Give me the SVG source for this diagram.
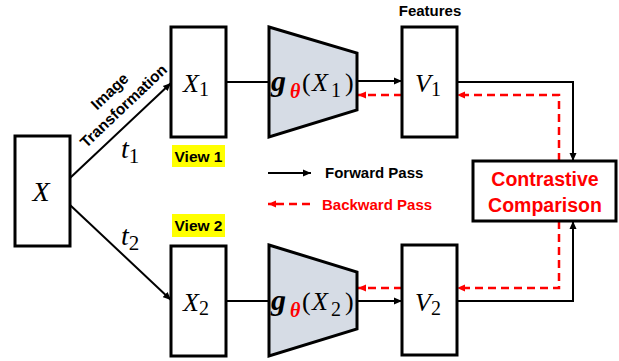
<svg xmlns="http://www.w3.org/2000/svg" width="619" height="361" viewBox="0 0 619 361">
<defs>
<marker id="ah" markerUnits="userSpaceOnUse" markerWidth="9" markerHeight="8" refX="8" refY="4" orient="auto"><path d="M0,0.5 L8,4 L0,7.5 z" fill="#000"/></marker>
<marker id="ahr" markerUnits="userSpaceOnUse" markerWidth="9" markerHeight="8" refX="8" refY="4" orient="auto"><path d="M0,0.5 L8,4 L0,7.5 z" fill="#f00"/></marker>
</defs>
<style>
.box{fill:#fff;stroke:#000;stroke-width:3}
.trap{fill:#d6dce5;stroke:#000;stroke-width:3}
.fw{fill:none;stroke:#000;stroke-width:2}
.bw{fill:none;stroke:#f00;stroke-width:2.5;stroke-dasharray:8 5}
.math{font-family:"Liberation Serif",serif;font-style:italic;fill:#000}
.lbl{font-family:"Liberation Sans",Arial,sans-serif;font-weight:bold;fill:#000}
.red{fill:#f00}
.hl{fill:#ff0}
</style>
<rect width="619" height="361" fill="#fff"/>
<g id="connectors">
<line class="fw" x1="70" y1="178" x2="171" y2="83" marker-end="url(#ah)"/>
<line class="fw" x1="70" y1="205" x2="171" y2="300" marker-end="url(#ah)"/>
<line class="fw" x1="226" y1="82" x2="269" y2="82"/>
<line class="fw" x1="357" y1="81" x2="402" y2="81" marker-end="url(#ah)"/>
<line class="bw" x1="402" y1="95" x2="358" y2="95" marker-end="url(#ahr)"/>
<polyline class="fw" points="457,82 573,82 573,161" marker-end="url(#ah)"/>
<polyline class="bw" points="559,161 559,95 457,95" marker-end="url(#ahr)"/>
<line class="fw" x1="226" y1="301" x2="269" y2="301"/>
<line class="fw" x1="357" y1="301" x2="402" y2="301" marker-end="url(#ah)"/>
<line class="bw" x1="402" y1="288" x2="358" y2="288" marker-end="url(#ahr)"/>
<polyline class="fw" points="457,301 573,301 573,221" marker-end="url(#ah)"/>
<polyline class="bw" points="559,221 559,288 457,288" marker-end="url(#ahr)"/>
</g>
<g id="transform-label">
<g transform="translate(134,117) rotate(-43.5)">
<text class="lbl" x="0" y="-30" font-size="15.5" text-anchor="middle">Image</text>
<text class="lbl" x="0" y="-10" font-size="15.5" text-anchor="middle">Transformation</text>
</g>
<text class="math" x="121" y="158" font-size="28">t<tspan font-size="21" font-style="normal" dy="5">1</tspan></text>
<text class="math" x="121" y="245" font-size="28">t<tspan font-size="21" font-style="normal" dy="5">2</tspan></text>
</g>
<g id="node-X">
<rect class="box" x="15" y="136" width="55" height="110"/>
<text class="math" x="41" y="201" font-size="28" text-anchor="middle">X</text>
</g>
<g id="node-X1">
<rect class="box" x="171" y="27" width="55" height="110"/>
<text class="math" x="183" y="92" font-size="26">X<tspan font-size="20" font-style="normal" dy="4">1</tspan></text>
<rect class="hl" x="172" y="145" width="53" height="22"/>
<text class="lbl" x="198.5" y="162" font-size="15.5" text-anchor="middle">View 1</text>
</g>
<g id="node-X2">
<rect class="box" x="171" y="246" width="55" height="110"/>
<text class="math" x="183" y="311" font-size="26">X<tspan font-size="20" font-style="normal" dy="4">2</tspan></text>
<rect class="hl" x="172" y="214" width="53" height="23"/>
<text class="lbl" x="198.5" y="231" font-size="15.5" text-anchor="middle">View 2</text>
</g>
<g id="node-g1">
<polygon class="trap" points="269,27 357,53 357,110 269,137"/>
<text class="math" font-size="26"><tspan x="271" y="91" font-weight="bold" font-size="30">g</tspan><tspan class="red" x="290" y="98" font-weight="bold" font-size="20">θ</tspan><tspan x="302" y="91" font-style="normal">(</tspan><tspan x="312" y="91">X</tspan><tspan x="331" y="97" font-size="20" font-style="normal">1</tspan><tspan x="345" y="91" font-style="normal">)</tspan></text>
</g>
<g id="node-g2">
<polygon class="trap" points="269,245 357,272 357,329 269,356"/>
<text class="math" font-size="26"><tspan x="271" y="310" font-weight="bold" font-size="30">g</tspan><tspan class="red" x="290" y="317" font-weight="bold" font-size="20">θ</tspan><tspan x="302" y="310" font-style="normal">(</tspan><tspan x="312" y="310">X</tspan><tspan x="331" y="316" font-size="20" font-style="normal">2</tspan><tspan x="345" y="310" font-style="normal">)</tspan></text>
</g>
<g id="node-V1">
<rect class="box" x="402" y="27" width="55" height="110"/>
<text class="math" x="415" y="92" font-size="26">V<tspan font-size="20" font-style="normal" dy="4">1</tspan></text>
<text class="lbl" x="430" y="16" font-size="15" text-anchor="middle">Features</text>
</g>
<g id="node-V2">
<rect class="box" x="402" y="245" width="55" height="110"/>
<text class="math" x="415" y="311" font-size="26">V<tspan font-size="20" font-style="normal" dy="4">2</tspan></text>
</g>
<g id="node-contrastive">
<rect class="box" x="473" y="161" width="143" height="60"/>
<text class="lbl red" x="545" y="186" font-size="19.5" text-anchor="middle">Contrastive</text>
<text class="lbl red" x="545" y="212" font-size="19.5" text-anchor="middle">Comparison</text>
</g>
<g id="legend">
<line class="fw" x1="268" y1="173" x2="311" y2="173" marker-end="url(#ah)"/>
<text class="lbl" x="325" y="178" font-size="15">Forward Pass</text>
<line class="bw" x1="310" y1="204" x2="268" y2="204" marker-end="url(#ahr)"/>
<text class="lbl red" x="322" y="210" font-size="15">Backward Pass</text>
</g>
</svg>
